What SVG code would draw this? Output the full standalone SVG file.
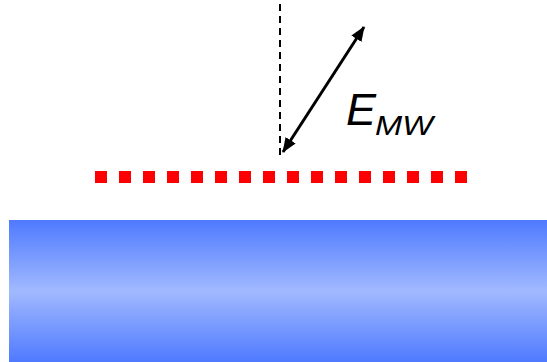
<svg xmlns="http://www.w3.org/2000/svg" width="547" height="362" viewBox="0 0 547 362">
<defs>
<linearGradient id="g" x1="0" y1="0" x2="0" y2="1">
<stop offset="0" stop-color="#4f7aff"/>
<stop offset="0.5" stop-color="#a1b9ff"/>
<stop offset="1" stop-color="#4f7aff"/>
</linearGradient>
<marker id="ah" viewBox="0 0 15 12" refX="14" refY="6" markerWidth="15" markerHeight="12" markerUnits="userSpaceOnUse" orient="auto-start-reverse">
<path d="M0,0 L15,6 L0,12 z" fill="#000"/>
</marker>
<style>
.sq{fill:#ff0000}
.lbl{font-family:"Liberation Sans",Arial,sans-serif;font-style:italic;fill:#000}
</style>
</defs>
<g id="substrate"><rect x="9" y="220" width="538" height="142" fill="url(#g)"/></g>
<g id="dots">
<rect class="sq" x="95" y="171" width="12" height="12"/>
<rect class="sq" x="119" y="171" width="12" height="12"/>
<rect class="sq" x="143" y="171" width="12" height="12"/>
<rect class="sq" x="167" y="171" width="12" height="12"/>
<rect class="sq" x="191" y="171" width="12" height="12"/>
<rect class="sq" x="215" y="171" width="12" height="12"/>
<rect class="sq" x="239" y="171" width="12" height="12"/>
<rect class="sq" x="263" y="171" width="12" height="12"/>
<rect class="sq" x="287" y="171" width="12" height="12"/>
<rect class="sq" x="311" y="171" width="12" height="12"/>
<rect class="sq" x="335" y="171" width="12" height="12"/>
<rect class="sq" x="359" y="171" width="12" height="12"/>
<rect class="sq" x="383" y="171" width="12" height="12"/>
<rect class="sq" x="407" y="171" width="12" height="12"/>
<rect class="sq" x="431" y="171" width="12" height="12"/>
<rect class="sq" x="455" y="171" width="12" height="12"/>
</g>
<g id="connectors">
<line x1="280" y1="4" x2="280" y2="155" stroke="#000" stroke-width="2" stroke-dasharray="7,5"/>
<line x1="283" y1="152" x2="364" y2="27" stroke="#000" stroke-width="3" marker-start="url(#ah)" marker-end="url(#ah)"/>
</g>
<g id="label">
<text class="lbl" x="346" y="125" font-size="45">E</text>
<text class="lbl" x="375" y="135" font-size="28" textLength="58" lengthAdjust="spacingAndGlyphs">MW</text>
</g>
</svg>
